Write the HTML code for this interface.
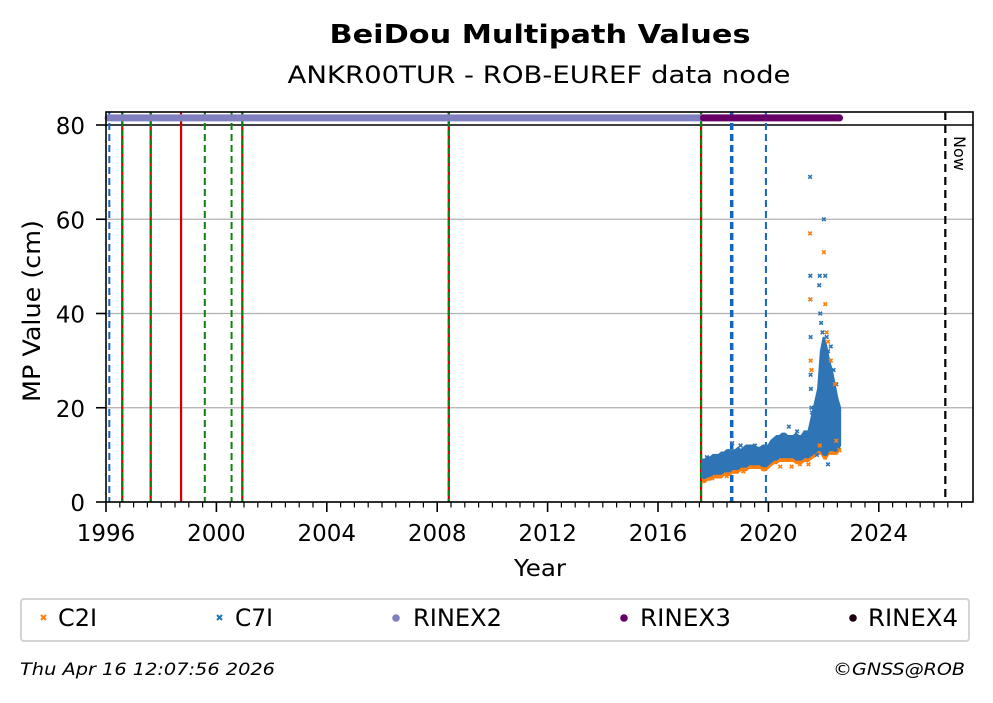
<!DOCTYPE html>
<html><head><meta charset="utf-8"><style>
body{margin:0;background:#fff;width:993px;height:699px;overflow:hidden;font-family:"DejaVu Sans","Liberation Sans",sans-serif}
</style></head><body>
<svg id="c" width="993" height="699" viewBox="0 0 993 699" xmlns="http://www.w3.org/2000/svg">
<text x="540" y="43" text-anchor="middle" font-size="26" font-weight="bold" textLength="421" lengthAdjust="spacingAndGlyphs">BeiDou Multipath Values</text>
<text x="539" y="83" text-anchor="middle" font-size="24" textLength="503" lengthAdjust="spacingAndGlyphs">ANKR00TUR - ROB-EUREF data node</text>
<g id="grid"></g><g id="vlines"></g><g id="band"></g><g id="marks"></g><g id="axes"></g>
<text x="540" y="576" text-anchor="middle" font-size="23" textLength="52" lengthAdjust="spacingAndGlyphs">Year</text>
<text transform="translate(40,311) rotate(-90)" text-anchor="middle" font-size="24" textLength="182" lengthAdjust="spacingAndGlyphs">MP Value (cm)</text>
<text transform="translate(954,136) rotate(90)" font-size="16">Now</text>
<g>
<rect x="21" y="599" width="948" height="42" rx="3" fill="#fff" stroke="#d4d4d4" stroke-width="2"/>
<g><path d="M41 615l5 5M46 615l-5 5" stroke="#ff7f0e" stroke-width="2"/><text x="58" y="626" font-size="24" textLength="39" lengthAdjust="spacingAndGlyphs">C2I</text></g>
<g><path d="M217 615l5 5M222 615l-5 5" stroke="#1f77b4" stroke-width="2"/><text x="235" y="626" font-size="24" textLength="38" lengthAdjust="spacingAndGlyphs">C7I</text></g>
<g><circle cx="396" cy="618" r="3.8" fill="#8080c0"/><text x="413" y="626" font-size="24" textLength="89" lengthAdjust="spacingAndGlyphs">RINEX2</text></g>
<g><circle cx="624" cy="618" r="3.8" fill="#660066"/><text x="640" y="626" font-size="24" textLength="91" lengthAdjust="spacingAndGlyphs">RINEX3</text></g>
<g><circle cx="853" cy="618" r="3.8" fill="#1a0010"/><text x="868" y="626" font-size="24" textLength="90" lengthAdjust="spacingAndGlyphs">RINEX4</text></g>
</g>
<text x="20" y="675" font-size="17" font-style="italic" textLength="255" lengthAdjust="spacingAndGlyphs">Thu Apr 16 12:07:56 2026</text>
<text x="833" y="675" font-size="17" font-style="italic" textLength="132" lengthAdjust="spacingAndGlyphs">©GNSS@ROB</text>
</svg>
<script>
const xTicks=[1996,2000,2004,2008,2012,2016,2020,2024];
const yTicks=[0,20,40,60,80];
const bandYears=[2017.6,2017.7,2017.8,2017.9,2018.0,2018.1,2018.2,2018.3,2018.4,2018.5,2018.6,
2018.7,2018.8,2018.9,2019.0,2019.1,2019.2,2019.3,2019.4,2019.5,2019.6,2019.7,2019.8,2019.9,2020.0,
2020.1,2020.2,2020.3,2020.4,2020.5,2020.6,2020.7,2020.8,2020.9,2021.0,2021.1,2021.2,2021.3,2021.45,
2021.8,2021.9,2022.0,2022.1,2022.2,2022.3,2022.4,2022.5,2022.6];
const c7iLow=[5,5,5.5,5.5,6,6,6,6,6.5,6.5,6.5,
7,7,7,7.5,7.5,7.5,8,8,8,8,8,7.5,7.5,8,
8.5,9,9,9.5,9.5,9.5,9.5,9.5,9.5,9,9,9,9.5,9.5,
11,11,10,10,11,11,11,11,12];
const c7iHigh=[9,9,9.5,9.5,10,10,10,10.5,10.5,11,11,
11,11,11.5,11,11.5,12,12,12,12,11.5,11.5,12,12,12,
13,13.5,14,14,14.5,14.5,14,14,14,14.5,14,14,15,15,
24,32,35,33,30,28,25,22,20];
const c7iYears=[2021.51,2021.52,2021.52,2021.53,2021.53,2021.54,2021.56,2021.58,2021.66,2021.71,2021.84,2021.86,2021.88,2021.91,2021.96,2022.01,2022.06,2022.11,2022.16,2022.21,2022.26,2022.36,2022.46,2022.54,2018.69,2020.33,2020.74,2021.04,2021.35,2017.77,2018.99,2019.51,2021.76,2022.16,2022.46];
const c7iVals=[69,48,43,35,27,24,20,19,17,16,46,48,40,38,36,60,48,35,32,30,33,28,25,20,12.5,10,16,15,13,9.5,12,12,10,8,11];
const c2iYears=[2021.51,2021.52,2021.53,2021.56,2022.01,2022.06,2022.11,2022.16,2022.26,2022.41,2022.57,2022.46,2021.86,2021.14,2020.84,2021.45,2019.82,2019.09,2018.49,2017.97,2017.67,2020.43];
const c2iVals=[57,43,30,28,53,42,36,34,30,25,11,13,12,8,7.5,8,7,6.5,5.5,5,4.5,7.5];
const rinexSegStart=[1996.0,2017.57];
const rinexSegEnd=[2017.57,2022.58];
const rinexVal=81.5;
const vlineYears=[1996.12,1996.59,1997.62,1998.72,1999.58,2000.55,2000.94,2008.42,2017.56,2018.67,2019.91,2026.41];
const vlineKinds=['blue','rg','rg','red','green','green','rg','rg','rg','bluethick','blue','now'];
const L=106,R=973,T=112,B=502;
const X=v=>L+(v-1996)*27.6;
const Y=v=>B-v*(B-125)/80;
const NS='http://www.w3.org/2000/svg';
function mk(p,tag,at){const e=document.createElementNS(NS,tag);for(const k in at)e.setAttribute(k,at[k]);p.appendChild(e);return e;}
const g=document.getElementById('grid'),vl=document.getElementById('vlines'),bd=document.getElementById('band'),mm=document.getElementById('marks'),ax=document.getElementById('axes');
yTicks.forEach(t=>{const l=mk(g,'line',{x1:L,x2:R,y1:Y(t),y2:Y(t),stroke:t==80?'#000':'#b0b0b0','stroke-width':t==80?1.6:1.2});

});
vlineYears.forEach((yr,i)=>{const k=vlineKinds[i],x=X(yr);
 const add=(c,w,d)=>{const l=mk(vl,'line',{x1:x,x2:x,y1:T,y2:B,stroke:c,'stroke-width':w});if(d)l.setAttribute('stroke-dasharray',d);
 
 };
 if(k=='blue')add('#1565c0',2,'7,4');
 if(k=='bluethick')add('#1565c0',3.5,'7,4');
 if(k=='red')add('#d00000',2.2);
 if(k=='green')add('#108010',2,'7,4');
 if(k=='rg'){add('#d00000',2.2);add('#108010',2.2,'6,3');}
 if(k=='now')add('#000',2.2,'8,5');});
rinexSegStart.forEach((s,i)=>{const l=mk(mm,'line',{x1:X(s)+2,x2:X(rinexSegEnd[i]),y1:Y(rinexVal),y2:Y(rinexVal),stroke:i?'#660066':'#8080c0','stroke-width':7,'stroke-linecap':'round'});

});
let d='M'+bandYears.map((y,i)=>X(y)+','+Y(c7iHigh[i])).join('L');
for(let i=bandYears.length-1;i>=0;i--)d+='L'+X(bandYears[i])+','+Y(c7iLow[i]);
let d2='M'+bandYears.map((y,i)=>X(y)+','+Y(c7iLow[i]+0.8)).join('L');
for(let i=bandYears.length-1;i>=0;i--)d2+='L'+X(bandYears[i])+','+Y(c7iLow[i]-1);
const o=mk(bd,'path',{d:d2+'Z',fill:'#ff7f0e'});


const b=mk(bd,'path',{d:d+'Z',fill:'#2f75b5',stroke:'#2f75b5','stroke-width':2});


function xs(ys,vs,col,name){let p='';ys.forEach((y,i)=>{const x=X(y),v=Y(vs[i]);p+=`M${x-1.8},${v-1.8}l3.6,3.6M${x+1.8},${v-1.8}l-3.6,3.6`;});
 const e=mk(mm,'path',{d:p,stroke:col,'stroke-width':1.6});
 
 }
xs(c7iYears,c7iVals,'#2f75b5','c7i-points');
xs(c2iYears,c2iVals,'#ff7f0e','c2i-points');
mk(ax,'rect',{x:L,y:T,width:R-L,height:B-T,fill:'none',stroke:'#000','stroke-width':1.6});
yTicks.forEach(t=>{mk(ax,'line',{x1:L-10,x2:L,y1:Y(t),y2:Y(t),stroke:'#000','stroke-width':1.6});
 const tx=mk(ax,'text',{x:L-21,y:Y(t)+9,'text-anchor':'end','font-size':23});tx.textContent=t;
 
 });
for(let h=0;h<=62;h++){const yr=1996+h/2;const major=(h%8==0);
 mk(ax,'line',{x1:X(yr),x2:X(yr),y1:B,y2:B+(major?10:5.5),stroke:'#000','stroke-width':major?1.6:1.2});}
xTicks.forEach(t=>{const tx=mk(ax,'text',{x:X(t),y:541,'text-anchor':'middle','font-size':23});tx.textContent=t;
 
 });
</script>
</body></html>
